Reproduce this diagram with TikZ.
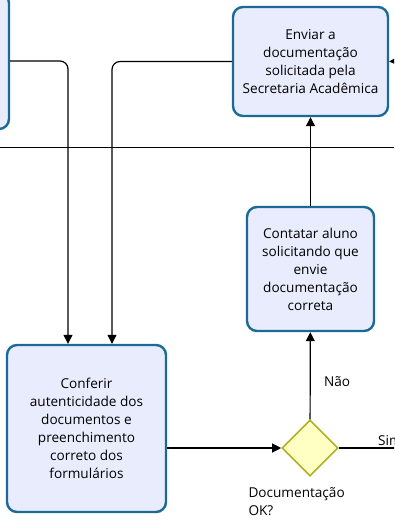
\documentclass[tikz,border=0pt]{standalone}
\usepackage{fontspec}
\setmainfont{Open Sans}
\usetikzlibrary{arrows.meta,shapes.geometric,positioning}
\definecolor{taskline}{HTML}{1B6A96}
\definecolor{taskfill}{HTML}{E8ECFC}
\definecolor{gateline}{HTML}{B0B020}
\definecolor{gatefill}{HTML}{FFFFC4}

\begin{document}
\begin{tikzpicture}[x=1pt,y=-1pt,
  task/.style={rectangle,rounded corners=10pt,draw=taskline,line width=2.4pt,fill=taskfill,align=center,font=\fontsize{13.6}{18}\selectfont},
  gate/.style={diamond,draw=gateline,line width=1.6pt,fill=gatefill,minimum width=56pt,minimum height=56pt,inner sep=0pt},
  flow/.style={line width=1.2pt,-{Triangle[length=9pt,width=9pt]}},
  lbl/.style={font=\fontsize{13.6}{18}\selectfont,align=left}]
\useasboundingbox (0,0) rectangle (394,525);
\clip (0,0) rectangle (394,525);

\node(prev)[task,minimum width=98pt,minimum height=136pt] at (-40,61) {};
\node(enviar)[task,minimum width=155pt,minimum height=109pt] at (310.5,61.5) {Enviar a\\documentação\\solicitada pela\\Secretaria Acadêmica};
\node(contatar)[task,minimum width=127pt,minimum height=124pt] at (310.5,269) {Contatar aluno\\solicitando que\\envie\\documentação\\correta};
\node(conferir)[task,minimum width=159pt,minimum height=167pt] at (86.5,428.5) {Conferir\\autenticidade dos\\documentos e\\preenchimento\\correto dos\\formulários};
\node(ok)[gate] at (310,448) {};
\node(oklbl)[lbl,anchor=north west] at (245,484) {Documentação\\OK?};
\coordinate(outright) at (400,448);
\coordinate(inright) at (400,61);

\draw[line width=0.9pt] (0,147) -- (394,147);

\draw [flow,rounded corners=8pt] (prev.east) -| ([xshift=-18.5pt]conferir.north);
\draw [flow,rounded corners=8pt] (enviar.west) -| ([xshift=25.5pt]conferir.north);
\draw [flow] (inright) -- (enviar.east);
\draw [flow] (contatar) -- (enviar);
\draw [flow] (conferir.east |- ok.west) -- (ok.west);
\draw [flow] (ok) -- node[lbl,right=10pt,pos=0.43]{Não} (contatar);
\draw [line width=1.2pt] (ok) -- node[lbl,pos=0.6,anchor=south west,inner sep=2pt]{Sim} (outright);
\end{tikzpicture}
\end{document}
